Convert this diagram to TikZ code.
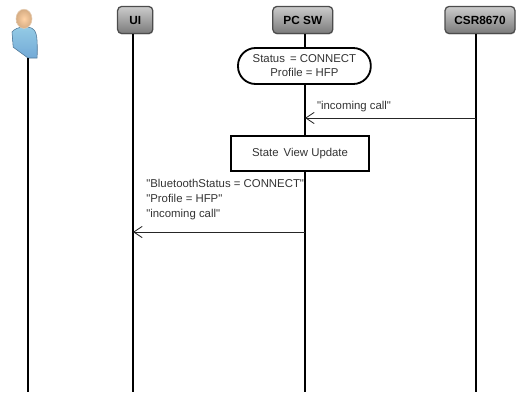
\documentclass[tikz,border=0pt]{standalone}
\usepackage{fontspec}
\newfontfamily\labelfont{Liberation Sans}
\usetikzlibrary{arrows.meta,shadows,shapes.misc}
\definecolor{bodytop}{RGB}{150,205,230}
\definecolor{bodybot}{RGB}{115,170,215}
\tikzset{
  head/.style={draw=black!70, line width=0.9pt, rounded corners=3pt, top color=black!20, bottom color=black!52,
    minimum height=0.68cm, inner sep=0pt, font=\labelfont\fontsize{8.4}{9}\selectfont\bfseries, drop shadow={opacity=0.25,shadow xshift=0.3pt,shadow yshift=-0.8pt}},
  life/.style={line width=1.3pt},
  msg/.style={line width=0.6pt, black!85, -{Straight Barb[length=6pt,width=8pt,line width=0.6pt]}},
  txt/.style={font=\labelfont\fontsize{8.1}{9.9}\selectfont, text=black!80, inner sep=0pt},
  frame/.style={draw, line width=1.3pt, fill=white, txt}
}
\begin{document}
\begin{tikzpicture}[>=stealth]
  \useasboundingbox (0,0) rectangle (13,9.8);
  % heads
  \node[head, minimum width=0.88cm] (ui) at (3.38,9.3) {UI};
  \node[head, minimum width=1.5cm] (pc) at (7.57,9.3) {PC SW};
  \node[head, minimum width=1.75cm] (csr) at (12.0,9.3) {CSR8670};
  % person
  \coordinate (user) at (0.7,8.35);
  \shade[top color=bodytop, bottom color=bodybot, draw=bodybot!70!black]
    (0.3,9.0) .. controls (0.4,9.14) and (0.75,9.18) .. (0.85,9.05)
    .. controls (0.95,8.95) and (0.93,8.65) .. (0.93,8.35)
    -- (0.7,8.35) -- (0.33,8.62) -- cycle;
  \shade[inner color=orange!35, outer color=brown!65, draw=brown!40] (0.6,9.33) ellipse (0.2 and 0.24);
  % lifelines
  \coordinate (user-end) at (0.7,0);
  \coordinate (ui-end) at (3.325,0);
  \coordinate (pc-end) at (7.625,0);
  \coordinate (csr-end) at (11.9,0);
  \draw[life] (user) -- (user-end);
  \draw[life] (ui.south -| ui-end) -- (ui-end);
  \draw[life] (pc.south -| pc-end) -- (pc-end);
  \draw[life] (csr.south -| csr-end) -- (csr-end);
  % status
  \node[frame, rounded corners=0.44cm, minimum width=3.32cm, minimum height=0.9cm, align=center] (status) at (7.61,8.15)
    {Status\, = CONNECT\\Profile = HFP};
  % incoming call
  \coordinate (csr-call) at (11.9,6.85);
  \coordinate (pc-call) at (7.625,6.85);
  \draw[msg] (csr-call) -- (pc-call);
  \node[txt, anchor=west] (call) at (7.92,7.13) {"incoming call"};
  % update
  \node[frame, minimum width=3.47cm, minimum height=0.88cm] (update) at (7.5,5.97) {State\, View Update};
  % to UI
  \coordinate (pc-ui) at (7.625,4.0);
  \coordinate (ui-ui) at (3.325,4.0);
  \draw[msg] (pc-ui) -- (ui-ui);
  \node[txt, anchor=north west, align=left] (bt) at (3.65,5.33)
    {"BluetoothStatus = CONNECT"\\[1pt]"Profile = HFP"\\[1pt]"incoming call"};
\end{tikzpicture}
\end{document}
